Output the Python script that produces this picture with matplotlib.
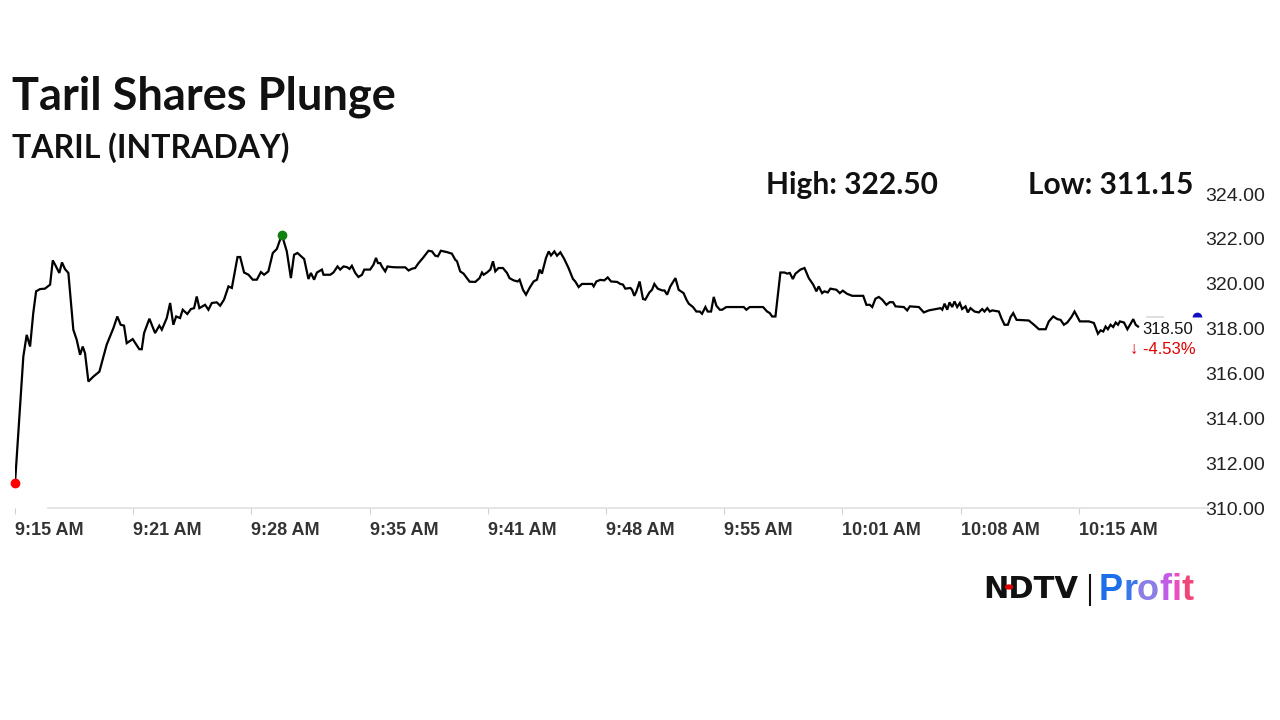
import matplotlib
matplotlib.use("Agg")
import matplotlib.pyplot as plt
import numpy as np

# ---- chart data ----
title = "Taril Shares Plunge"
subtitle = "TARIL (INTRADAY)"
day_high = 322.50
day_low = 311.15
last_price = 318.50
change_pct = -4.53

tick_labels = ["9:15 AM", "9:21 AM", "9:28 AM", "9:35 AM", "9:41 AM",
               "9:48 AM", "9:55 AM", "10:01 AM", "10:08 AM", "10:15 AM"]
tick_step = 400 / 60  # minutes between two time labels

y_ticks = [310, 312, 314, 316, 318, 320, 322, 324]

# minutes after 9:15 AM
minutes = [
    0.00, 0.47, 0.66, 0.85, 1.03, 1.19, 1.41, 1.69, 1.98, 2.13,
    2.26, 2.50, 2.65, 2.82, 3.01, 3.29, 3.48, 3.67, 3.82, 3.95,
    4.14, 4.42, 4.76, 5.17, 5.55, 5.77, 5.96, 6.15, 6.30, 6.64,
    7.01, 7.15, 7.28, 7.58, 7.90, 8.14, 8.28, 8.56, 8.75, 8.93,
    9.09, 9.31, 9.46, 9.72, 9.92, 10.10, 10.25, 10.40, 10.72, 10.91,
    11.10, 11.38, 11.57, 11.79, 12.04, 12.23, 12.55, 12.70, 12.92, 13.17,
    13.41, 13.64, 13.87, 14.05, 14.29, 14.54, 14.77, 15.05, 15.33, 15.56,
    15.74, 15.93, 16.31, 16.55, 16.69, 16.87, 17.03, 17.31, 17.40, 17.78,
    17.96, 18.19, 18.34, 18.53, 18.72, 18.87, 19.00, 19.19, 19.37, 19.57,
    19.70, 20.03, 20.22, 20.36, 20.47, 20.60, 20.69, 20.88, 21.01, 21.26,
    21.54, 22.01, 22.20, 22.39, 22.57, 22.76, 23.01, 23.32, 23.52, 23.70,
    23.85, 24.02, 24.36, 24.64, 24.83, 24.93, 25.11, 25.30, 25.64, 25.96,
    26.20, 26.34, 26.43, 26.62, 26.81, 26.96, 27.09, 27.27, 27.52, 27.75,
    27.89, 28.12, 28.35, 28.46, 28.65, 28.82, 29.02, 29.25, 29.44, 29.59,
    29.72, 29.95, 30.10, 30.23, 30.42, 30.57, 30.76, 30.98, 31.22, 31.47,
    31.60, 31.79, 31.98, 32.55, 32.64, 32.79, 33.01, 33.24, 33.43, 33.62,
    33.96, 34.14, 34.29, 34.42, 34.71, 34.80, 34.93, 35.05, 35.23, 35.42,
    35.55, 35.78, 35.93, 36.06, 36.25, 36.50, 36.63, 36.78, 36.96, 37.25,
    37.43, 37.71, 37.87, 38.00, 38.24, 38.43, 38.62, 38.75, 38.94, 39.07,
    39.26, 39.41, 39.56, 39.75, 39.88, 40.12, 41.10, 41.25, 41.44, 42.19,
    42.42, 42.57, 42.70, 42.89, 43.17, 43.40, 43.55, 43.70, 43.87, 44.02,
    44.30, 44.53, 44.77, 45.02, 45.20, 45.33, 45.52, 45.65, 45.84, 45.99,
    46.33, 46.52, 46.69, 46.93, 47.22, 47.84, 48.02, 48.21, 48.35, 48.53,
    48.72, 48.91, 49.15, 49.34, 49.53, 49.66, 50.13, 50.32, 50.47, 50.98,
    51.26, 51.54, 51.92, 52.20, 52.30, 52.43, 52.58, 52.71, 52.86, 52.99,
    53.14, 53.29, 53.42, 53.61, 53.74, 53.89, 54.12, 54.36, 54.55, 54.68,
    54.84, 54.98, 55.12, 55.49, 55.63, 55.81, 56.00, 56.15, 56.30, 56.49,
    57.18, 57.47, 57.75, 58.13, 58.31, 58.56, 58.79, 58.97, 59.16, 59.35,
    59.58, 59.76, 60.06, 60.57, 60.85, 61.08, 61.23, 61.38, 61.51, 61.64,
    61.79, 61.94, 62.08, 62.21, 62.32, 62.55, 62.74, 62.92, 63.07, 63.21,
    63.34,
]

prices = [
    311.10, 316.75, 317.72, 317.20, 318.69, 319.66, 319.76, 319.78, 319.96, 321.04,
    320.85, 320.48, 320.95, 320.65, 320.48, 317.95, 317.50, 316.83, 317.20, 316.90,
    315.64, 315.86, 316.08, 317.28, 318.02, 318.54, 318.17, 318.13, 317.35, 317.53,
    317.08, 317.08, 317.80, 318.44, 317.80, 318.13, 317.95, 318.47, 319.14, 318.17,
    318.54, 318.47, 318.84, 318.65, 318.87, 318.91, 319.43, 318.91, 319.06, 318.84,
    319.14, 319.17, 319.02, 319.29, 319.88, 319.81, 321.19, 321.19, 320.50, 320.40,
    320.18, 320.18, 320.52, 320.40, 320.55, 321.37, 321.55, 322.19, 321.44, 320.25,
    321.29, 321.37, 321.10, 320.21, 320.48, 320.18, 320.50, 320.63, 320.40, 320.40,
    320.50, 320.77, 320.63, 320.77, 320.74, 320.66, 320.80, 320.48, 320.30, 320.40,
    320.63, 320.63, 320.85, 321.15, 320.92, 320.92, 320.77, 320.55, 320.77, 320.74,
    320.73, 320.73, 320.59, 320.67, 320.70, 320.92, 321.15, 321.47, 321.44, 321.25,
    321.22, 321.47, 321.41, 321.34, 321.07, 321.00, 320.55, 320.45, 320.09, 320.08,
    320.25, 320.50, 320.40, 320.50, 320.63, 321.00, 320.55, 320.70, 320.70, 320.48,
    320.25, 320.15, 320.10, 320.18, 319.73, 319.51, 319.81, 320.10, 320.18, 320.63,
    320.45, 321.15, 321.44, 321.26, 321.44, 321.25, 321.40, 321.10, 320.70, 320.21,
    320.10, 319.85, 319.99, 319.99, 319.88, 320.10, 320.17, 320.15, 320.28, 320.10,
    320.08, 319.99, 319.96, 319.78, 319.81, 319.73, 319.46, 319.66, 320.10, 319.32,
    319.29, 319.61, 319.73, 319.99, 319.78, 319.70, 319.70, 319.51, 319.88, 320.25,
    319.73, 319.58, 319.29, 319.11, 318.96, 318.76, 318.76, 318.66, 318.96, 318.76,
    318.76, 319.41, 319.02, 318.84, 318.84, 318.96, 318.96, 318.84, 318.96, 318.96,
    318.76, 318.69, 318.54, 318.54, 320.50, 320.50, 320.45, 320.48, 320.21, 320.45,
    320.63, 320.70, 320.25, 319.96, 319.66, 319.88, 319.58, 319.66, 319.61, 319.78,
    319.73, 319.58, 319.69, 319.55, 319.46, 319.46, 319.06, 319.06, 318.96, 319.33,
    319.41, 319.29, 319.06, 319.18, 319.17, 318.99, 318.96, 318.81, 318.99, 318.96,
    318.72, 318.81, 318.87, 318.91, 318.84, 319.11, 318.84, 319.17, 318.96, 319.21,
    318.96, 319.14, 318.87, 318.99, 318.72, 318.91, 318.76, 318.72, 318.87, 318.76,
    318.91, 318.76, 318.81, 318.76, 318.47, 318.17, 318.17, 318.51, 318.69, 318.39,
    318.36, 318.17, 317.97, 317.97, 318.32, 318.54, 318.42, 318.39, 318.17, 318.27,
    318.51, 318.76, 318.32, 318.32, 318.25, 317.77, 317.92, 317.87, 318.09, 317.97,
    318.17, 318.07, 318.27, 318.17, 318.32, 318.27, 317.97, 318.21, 318.42, 318.17,
    318.09,
]

# ---- figure ----
W, H = 1280, 720
fig = plt.figure(figsize=(W / 100, H / 100), dpi=100)
fig.patch.set_facecolor("white")

ax = fig.add_axes([15 / W, 1 - 508 / H, (1197 - 15) / W, (508 - 194) / H])
ax.set_facecolor("none")

x_end = len(tick_labels) * tick_step
ax.plot(minutes, prices, color="black", linewidth=1.6, solid_joinstyle="miter")

# low / high / last markers
i_low = int(np.argmin(prices))
i_high = int(np.argmax(prices))
ax.plot(minutes[i_low], prices[i_low], "o", color="#ff0000", markersize=6, clip_on=False, zorder=5)
ax.plot(minutes[i_high], prices[i_high], "o", color="#108010", markersize=6, clip_on=False, zorder=5)
ax.plot(x_end, last_price, "o", color="#1010c0", markersize=7, fillstyle="top",
        markerfacecoloralt="none", markeredgewidth=0, clip_on=False, zorder=5)
ax.plot([minutes[-1] + 0.5, minutes[-1] + 1.4], [last_price, last_price],
        color="#d8d8d8", linewidth=1.2)

ax.set_xlim(0, x_end)
ax.set_ylim(y_ticks[0], y_ticks[-1])

ax.set_xticks(np.arange(len(tick_labels)) * tick_step)
ax.set_xticklabels(tick_labels, ha="left")
ax.set_yticks(y_ticks)
ax.set_yticklabels([f"{v:.2f}" for v in y_ticks])
ax.yaxis.tick_right()

for lbl in ax.get_xticklabels():
    lbl.set_fontfamily("Liberation Sans")
    lbl.set_fontweight("bold")
    lbl.set_fontsize(13)
    lbl.set_color("#333333")
for lbl in ax.get_yticklabels():
    lbl.set_fontfamily("Liberation Sans")
    lbl.set_fontsize(14)
    lbl.set_color("#222222")

ax.tick_params(axis="x", length=4, color="#d0d0d0", pad=6)
ax.tick_params(axis="y", length=0, pad=6)
for side in ["top", "left", "right"]:
    ax.spines[side].set_visible(False)
ax.spines["bottom"].set_color("#e0e0e0")
ax.spines["bottom"].set_linewidth(1.2)
ax.spines["bottom"].set_bounds(1.85, x_end + 0.6)

# ---- titles ----
fig.text(12 / W, 1 - 110 / H, title, fontsize=32.5, fontweight="bold",
         family="Lato", color="#111111", va="baseline")
fig.text(12 / W, 1 - 158 / H, subtitle, fontsize=23, fontweight="bold",
         family="Lato", color="#111111", va="baseline")
fig.text(766 / W, 1 - 194 / H, f"High: {day_high:.2f}", fontsize=21.5, fontweight="bold",
         family="Lato", color="#111111", va="baseline")
fig.text(1193 / W, 1 - 194 / H, f"Low: {day_low:.2f}", fontsize=21.5, fontweight="bold",
         family="Lato", color="#111111", va="baseline", ha="right")

# last price and change
fig.text(1193 / W, 1 - 330 / H, f"{last_price:.2f}", fontsize=12,
         family="Liberation Sans", color="#111111", ha="right", va="center")
fig.text(1196 / W, 1 - 349 / H, f"\u2193 {change_pct:.2f}%", fontsize=12,
         family=["Liberation Sans", "DejaVu Sans"], color="#e00000", ha="right", va="center")

# ---- logo ----
fig.text(983 / W, 1 - 598 / H, "NDTV", fontsize=22, fontweight="heavy",
         family="DejaVu Sans", color="#111111", va="baseline")
fig.patches.append(plt.Circle((1009 / W, 1 - 587 / H), 3.5 / W, transform=fig.transFigure,
                              color="#e00000", zorder=5))
fig.add_artist(plt.Line2D([1090 / W, 1090 / W], [1 - 575 / H, 1 - 605 / H],
                          color="#111111", linewidth=1.5))
profit_colors = ["#1c6fe8", "#3a78ea", "#8b7ee4", "#c25ce6", "#e84fc0", "#f0457a"]
renderer = fig.canvas.get_renderer()
x_pos = 1099
for ch, col in zip("Profit", profit_colors):
    t = fig.text(x_pos / W, 1 - 600 / H, ch, fontsize=26, fontweight="bold",
                 family="Liberation Sans", color=col, va="baseline")
    x_pos += t.get_window_extent(renderer).width

fig.savefig("out.png", dpi=100, facecolor="white")
